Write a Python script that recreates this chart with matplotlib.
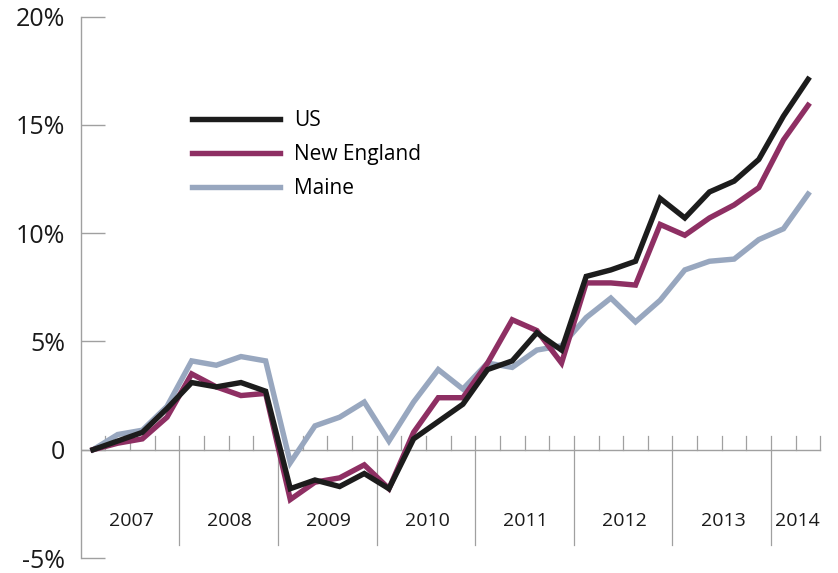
import matplotlib.pyplot as plt

# quarterly change, 2007 Q1 .. 2014 Q2
years = ['2007', '2008', '2009', '2010', '2011', '2012', '2013', '2014']
us = [0, 0.4, 0.8, 1.9, 3.1, 2.9, 3.1, 2.7, -1.8, -1.4, -1.7, -1.1, -1.8, 0.5, 1.3, 2.1,
      3.7, 4.1, 5.4, 4.6, 8.0, 8.3, 8.7, 11.6, 10.7, 11.9, 12.4, 13.4, 15.4, 17.1]
new_england = [0, 0.3, 0.5, 1.5, 3.5, 2.9, 2.5, 2.6, -2.3, -1.5, -1.3, -0.7, -1.8, 0.8, 2.4, 2.4,
               4.0, 6.0, 5.5, 4.0, 7.7, 7.7, 7.6, 10.4, 9.9, 10.7, 11.3, 12.1, 14.3, 15.9]
maine = [0, 0.7, 0.9, 2.0, 4.1, 3.9, 4.3, 4.1, -0.6, 1.1, 1.5, 2.2, 0.4, 2.2, 3.7, 2.8,
         4.0, 3.8, 4.6, 4.8, 6.1, 7.0, 5.9, 6.9, 8.3, 8.7, 8.8, 9.7, 10.2, 11.8]
y_ticks = [-5, 0, 5, 10, 15, 20]
y_labels = ['-5%', '0', '5%', '10%', '15%', '20%']

plt.rcParams['font.family'] = ['Open Sans', 'DejaVu Sans']
grey = '#a0a0a0'

fig = plt.figure(figsize=(8.38, 5.73), dpi=100)
ax = fig.add_axes([80.7 / 838, 15 / 573, 757 / 838, 541.5 / 573])
n = len(us)
ax.set_xlim(-0.5, 30.2)
ax.set_ylim(-5, 20)

# zero line, quarter ticks and year dividers
ax.plot([-0.5, n - 0.5], [0, 0], color=grey, lw=1, zorder=1)
for k in range(n):
    q = k + 0.5
    if k % 4 == 3 and k < n - 1:
        ax.plot([q, q], [0.65, -4.4], color=grey, lw=0.9, zorder=1)
    else:
        ax.plot([q, q], [0, 0.65], color=grey, lw=0.9, zorder=1)
for j, yr in enumerate(years):
    start = j * 4 - 0.5
    end = min(start + 4, n - 0.5)
    ax.text((start + end) / 2 + 0.05, -3.3, yr, ha='center', va='center', fontsize=14,
            color='#1a1a1a', fontweight='medium')

x = list(range(n))
ax.plot(x, maine, color='#98a7bf', lw=3.9, label='Maine', zorder=3, solid_joinstyle='miter')
ax.plot(x, new_england, color='#8e2f63', lw=3.9, label='New England', zorder=4, solid_joinstyle='miter')
ax.plot(x, us, color='#1c1c1c', lw=3.9, label='US', zorder=5, solid_joinstyle='miter')

for s in ['top', 'right', 'bottom']:
    ax.spines[s].set_visible(False)
ax.spines['left'].set_color(grey)
ax.spines['left'].set_linewidth(1)
ax.set_xticks([])
ax.set_yticks(y_ticks)
ax.set_yticklabels(y_labels, fontsize=18, color='#1a1a1a')
ax.tick_params(axis='y', direction='in', length=17, color=grey, width=1, pad=11)

h, l = ax.get_legend_handles_labels()
ax.legend(h[::-1], l[::-1], loc='upper left', bbox_to_anchor=(192 / 838, 1 - 110 / 573),
          bbox_transform=fig.transFigure, frameon=False, fontsize=15, handlelength=4.2,
          handletextpad=0.7, labelspacing=0.62, borderpad=0, borderaxespad=0)

fig.savefig('out.png', dpi=100)
